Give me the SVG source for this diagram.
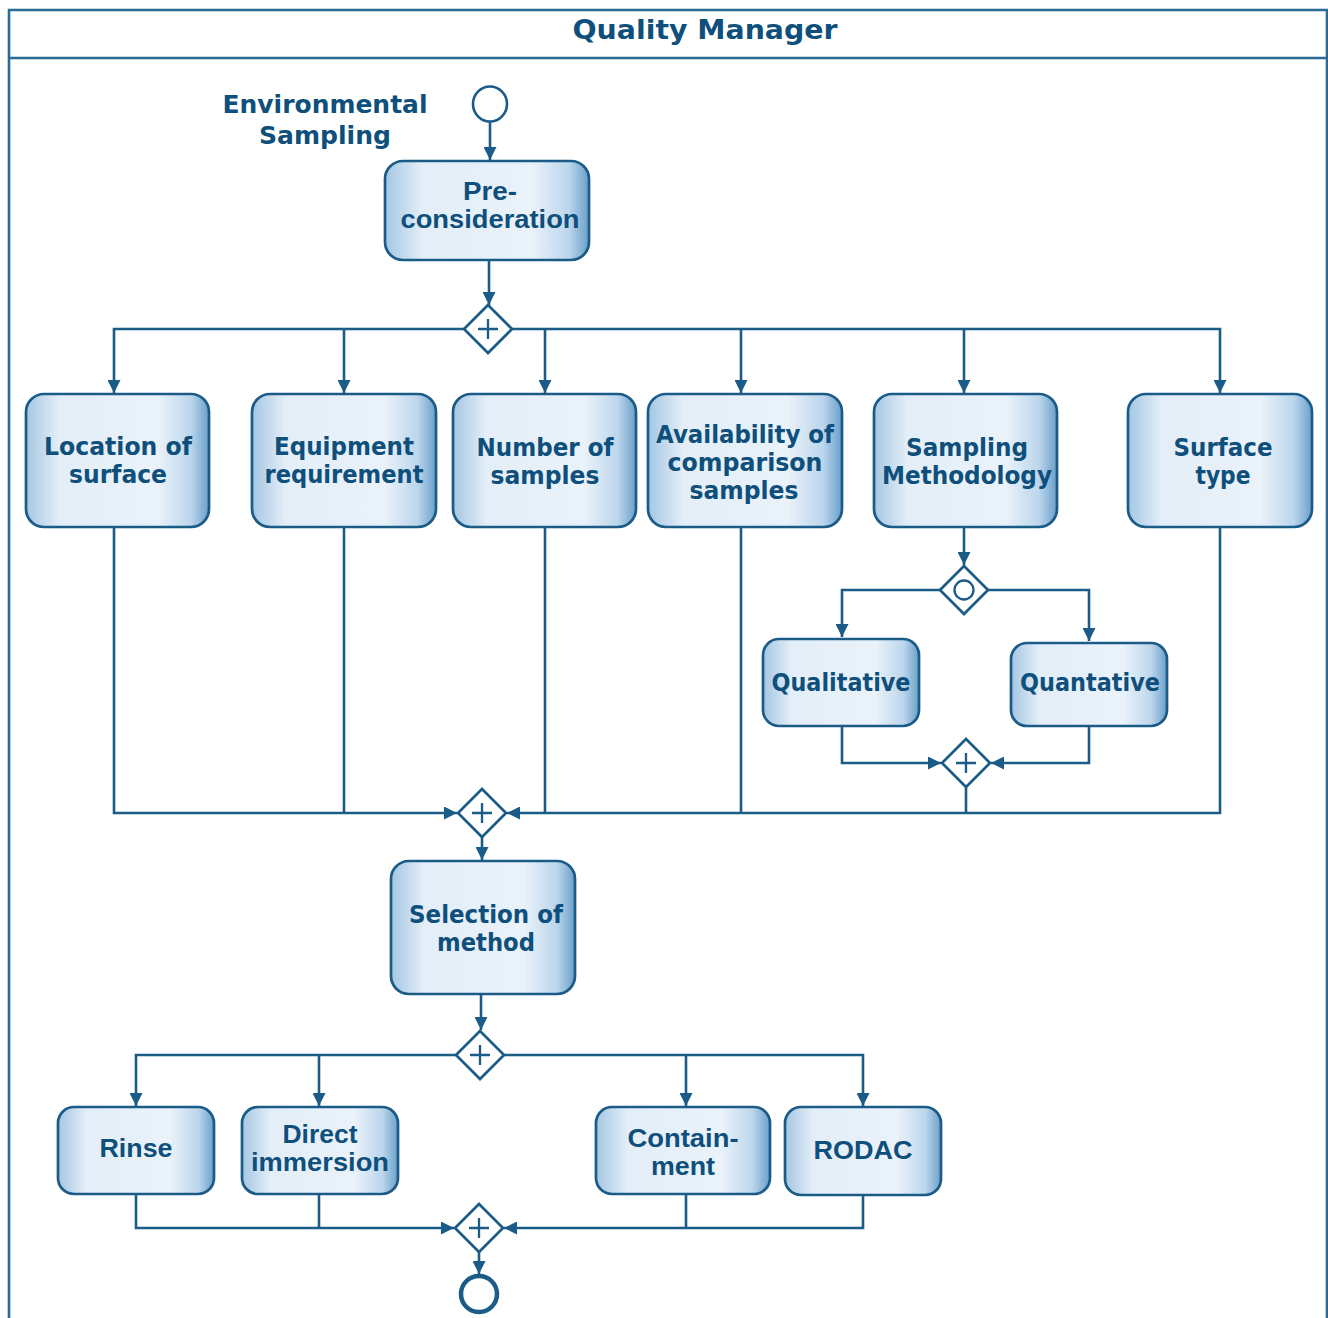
<svg xmlns="http://www.w3.org/2000/svg" width="1328" height="1318" viewBox="0 0 1328 1318">
  <defs>
    <linearGradient id="taskFill" x1="0" y1="0" x2="1" y2="0">
      <stop offset="0" stop-color="#a4c6e2"/>
      <stop offset="0.18" stop-color="#e3eef8"/>
      <stop offset="0.72" stop-color="#eaf2fa"/>
      <stop offset="0.9" stop-color="#bcd6ec"/>
      <stop offset="1" stop-color="#6a9fc8"/>
    </linearGradient>
    <marker id="arrow" markerUnits="userSpaceOnUse" markerWidth="14" markerHeight="13" refX="13" refY="6.5" orient="auto">
      <path d="M0,0 L13,6.5 L0,13 Z" fill="#1b5b87"/>
    </marker>
    <style>
      .frame { fill: none; stroke: #2a6a94; stroke-width: 2.6; }
      .task { fill: url(#taskFill); stroke: #1b5b87; stroke-width: 2.7; }
      .gw { fill: #ffffff; stroke: #1b5b87; stroke-width: 2.7; }
      .gwmark { fill: none; stroke: #1b5b87; stroke-width: 2.3; }
      .flow { fill: none; stroke: #1b5b87; stroke-width: 2.6; }
      .arr { marker-end: url(#arrow); }
      .lbl { fill: #0e4f7c; font-family: "DejaVu Sans", Verdana, sans-serif; font-weight: bold; text-anchor: middle; }
      .lbl2 { fill: #0e4f7c; font-family: "Liberation Sans", Arial, sans-serif; font-weight: bold; text-anchor: middle; }
    </style>
  </defs>

  <rect width="1328" height="1318" fill="#ffffff"/>

  <!-- pool frame with lane header -->
  <g id="pool">
    <path class="frame" d="M9,1318 V10 H1327 V1318"/>
    <line class="frame" x1="9" y1="58" x2="1327" y2="58"/>
    <text class="lbl" x="705" y="39" font-size="26" textLength="265" lengthAdjust="spacingAndGlyphs">Quality Manager</text>
  </g>

  <!-- connectors -->
  <g id="connectors">
    <path class="flow arr" d="M490,122 V160"/>
    <path class="flow arr" d="M489,261 V305"/>

    <path class="flow arr" d="M464,329 H114 V393"/>
    <path class="flow arr" d="M344,329 V393"/>
    <path class="flow arr" d="M512,329 H1220 V393"/>
    <path class="flow arr" d="M545,329 V393"/>
    <path class="flow arr" d="M741,329 V393"/>
    <path class="flow arr" d="M964,329 V393"/>

    <path class="flow arr" d="M114,527 V813 H457"/>
    <path class="flow" d="M344,527 V813"/>
    <path class="flow" d="M545,527 V813"/>
    <path class="flow" d="M741,527 V813"/>
    <path class="flow arr" d="M1220,527 V813 H507"/>
    <path class="flow" d="M966,787 V813"/>

    <path class="flow arr" d="M964,527 V565"/>
    <path class="flow arr" d="M940,590 H842 V637"/>
    <path class="flow arr" d="M988,590 H1089 V641"/>
    <path class="flow arr" d="M842,726 V763 H941"/>
    <path class="flow arr" d="M1089,726 V763 H991"/>

    <path class="flow arr" d="M482,837 V860"/>
    <path class="flow arr" d="M481,994 V1030"/>

    <path class="flow arr" d="M456,1055 H136 V1106"/>
    <path class="flow arr" d="M319,1055 V1106"/>
    <path class="flow arr" d="M504,1055 H863 V1106"/>
    <path class="flow arr" d="M686,1055 V1106"/>

    <path class="flow arr" d="M136,1194 V1228 H454"/>
    <path class="flow" d="M319,1194 V1228"/>
    <path class="flow arr" d="M863,1195 V1228 H504"/>
    <path class="flow" d="M686,1194 V1228"/>

    <path class="flow arr" d="M479,1252 V1274"/>
  </g>

  <!-- start event -->
  <g id="start">
    <ellipse cx="490" cy="104" rx="17" ry="17.5" fill="#ffffff" stroke="#1b5b87" stroke-width="2.6"/>
    <text class="lbl" x="325" y="113" font-size="24" textLength="205" lengthAdjust="spacingAndGlyphs">Environmental</text>
    <text class="lbl" x="325" y="144" font-size="24" textLength="132" lengthAdjust="spacingAndGlyphs">Sampling</text>
  </g>

  <g id="preconsideration">
    <rect class="task" x="385" y="161" width="204" height="99" rx="18"/>
    <text class="lbl2" x="490" y="200" font-size="25" textLength="54" lengthAdjust="spacingAndGlyphs">Pre-</text>
    <text class="lbl2" x="490" y="228" font-size="25" textLength="179" lengthAdjust="spacingAndGlyphs">consideration</text>
  </g>

  <g id="split1">
    <path class="gw" d="M488,305 L512,329 L488,353 L464,329 Z"/>
    <path class="gwmark" d="M488,319 V339 M478,329 H498"/>
  </g>

  <g id="location">
    <rect class="task" x="26" y="394" width="183" height="133" rx="18"/>
    <text class="lbl" x="118" y="455" font-size="24" textLength="148" lengthAdjust="spacingAndGlyphs">Location of</text>
    <text class="lbl" x="118" y="483" font-size="24" textLength="98" lengthAdjust="spacingAndGlyphs">surface</text>
  </g>

  <g id="equipment">
    <rect class="task" x="252" y="394" width="184" height="133" rx="18"/>
    <text class="lbl" x="344" y="455" font-size="24" textLength="140" lengthAdjust="spacingAndGlyphs">Equipment</text>
    <text class="lbl" x="344" y="483" font-size="24" textLength="159" lengthAdjust="spacingAndGlyphs">requirement</text>
  </g>

  <g id="number">
    <rect class="task" x="453" y="394" width="183" height="133" rx="18"/>
    <text class="lbl" x="545" y="456" font-size="24" textLength="137" lengthAdjust="spacingAndGlyphs">Number of</text>
    <text class="lbl" x="545" y="484" font-size="24" textLength="109" lengthAdjust="spacingAndGlyphs">samples</text>
  </g>

  <g id="availability">
    <rect class="task" x="648" y="394" width="194" height="133" rx="18"/>
    <text class="lbl" x="745" y="443" font-size="24" textLength="178" lengthAdjust="spacingAndGlyphs">Availability of</text>
    <text class="lbl" x="745" y="471" font-size="24" textLength="155" lengthAdjust="spacingAndGlyphs">comparison</text>
    <text class="lbl" x="744" y="499" font-size="24" textLength="109" lengthAdjust="spacingAndGlyphs">samples</text>
  </g>

  <g id="methodology">
    <rect class="task" x="874" y="394" width="183" height="133" rx="18"/>
    <text class="lbl" x="967" y="456" font-size="24" textLength="122" lengthAdjust="spacingAndGlyphs">Sampling</text>
    <text class="lbl" x="967" y="484" font-size="24" textLength="170" lengthAdjust="spacingAndGlyphs">Methodology</text>
  </g>

  <g id="surfacetype">
    <rect class="task" x="1128" y="394" width="184" height="133" rx="18"/>
    <text class="lbl" x="1223" y="456" font-size="24" textLength="99" lengthAdjust="spacingAndGlyphs">Surface</text>
    <text class="lbl" x="1223" y="484" font-size="24" textLength="55" lengthAdjust="spacingAndGlyphs">type</text>
  </g>

  <g id="orsplit">
    <path class="gw" d="M964,566 L988,590 L964,614 L940,590 Z"/>
    <circle class="gwmark" cx="964" cy="590" r="9.5"/>
  </g>

  <g id="qualitative">
    <rect class="task" x="763" y="639" width="156" height="87" rx="16"/>
    <text class="lbl" x="841" y="691" font-size="24" textLength="139" lengthAdjust="spacingAndGlyphs">Qualitative</text>
  </g>

  <g id="quantative">
    <rect class="task" x="1011" y="643" width="156" height="83" rx="16"/>
    <text class="lbl" x="1090" y="691" font-size="24" textLength="140" lengthAdjust="spacingAndGlyphs">Quantative</text>
  </g>

  <g id="join1">
    <path class="gw" d="M966,739 L990,763 L966,787 L942,763 Z"/>
    <path class="gwmark" d="M966,753 V773 M956,763 H976"/>
  </g>

  <g id="merge1">
    <path class="gw" d="M482,789 L506,813 L482,837 L458,813 Z"/>
    <path class="gwmark" d="M482,803 V823 M472,813 H492"/>
  </g>

  <g id="selection">
    <rect class="task" x="391" y="861" width="184" height="133" rx="18"/>
    <text class="lbl" x="486" y="923" font-size="24" textLength="154" lengthAdjust="spacingAndGlyphs">Selection of</text>
    <text class="lbl" x="486" y="951" font-size="24" textLength="98" lengthAdjust="spacingAndGlyphs">method</text>
  </g>

  <g id="split2">
    <path class="gw" d="M480,1031 L504,1055 L480,1079 L456,1055 Z"/>
    <path class="gwmark" d="M480,1045 V1065 M470,1055 H490"/>
  </g>

  <g id="rinse">
    <rect class="task" x="58" y="1107" width="156" height="87" rx="16"/>
    <text class="lbl2" x="136" y="1157" font-size="26" textLength="73" lengthAdjust="spacingAndGlyphs">Rinse</text>
  </g>

  <g id="immersion">
    <rect class="task" x="242" y="1107" width="156" height="87" rx="16"/>
    <text class="lbl2" x="320" y="1143" font-size="26" textLength="75" lengthAdjust="spacingAndGlyphs">Direct</text>
    <text class="lbl2" x="320" y="1171" font-size="26" textLength="138" lengthAdjust="spacingAndGlyphs">immersion</text>
  </g>

  <g id="containment">
    <rect class="task" x="596" y="1107" width="174" height="87" rx="16"/>
    <text class="lbl2" x="683" y="1147" font-size="26" textLength="111" lengthAdjust="spacingAndGlyphs">Contain-</text>
    <text class="lbl2" x="683" y="1175" font-size="26" textLength="64" lengthAdjust="spacingAndGlyphs">ment</text>
  </g>

  <g id="rodac">
    <rect class="task" x="785" y="1107" width="156" height="88" rx="16"/>
    <text class="lbl2" x="863" y="1159" font-size="26" textLength="99" lengthAdjust="spacingAndGlyphs">RODAC</text>
  </g>

  <g id="merge2">
    <path class="gw" d="M479,1204 L503,1228 L479,1252 L455,1228 Z"/>
    <path class="gwmark" d="M479,1218 V1238 M469,1228 H489"/>
  </g>

  <g id="end">
    <circle cx="479" cy="1294" r="18" fill="#ffffff" stroke="#1b5b87" stroke-width="4.5"/>
  </g>
</svg>
